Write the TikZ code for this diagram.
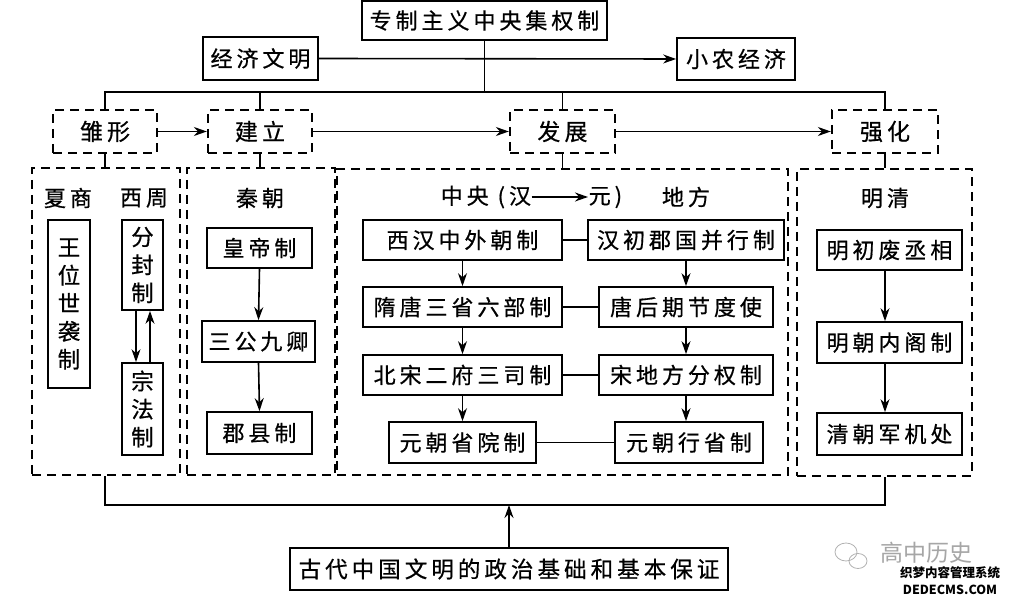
\documentclass[tikz,border=0pt]{standalone}
\usepackage{fontspec}
\newfontfamily\cjk[LetterSpace=18,FakeBold=0.6]{Noto Sans CJK SC}
\newfontfamily\cjkv[FakeBold=0.6]{Noto Sans CJK SC}
\newfontfamily\cjkplain{Noto Sans CJK SC}
\usetikzlibrary{arrows.meta}
\begin{document}
\begin{tikzpicture}[x=1pt,y=-1pt,
  line width=1.5pt,
  box/.style={draw, line width=1.7pt, inner sep=0pt, font=\cjk\fontsize{22}{26}\selectfont},
  dbox/.style={draw, line width=2.3pt, dash pattern=on 9pt off 6pt, inner sep=0pt, font=\cjk\fontsize{23}{26}\selectfont},
  grp/.style={draw, line width=2.3pt, dash pattern=on 9pt off 6pt, inner sep=0pt},
  vbox/.style={draw, line width=1.7pt, inner sep=0pt, align=center, font=\cjkv\fontsize{22.5}{28}\selectfont},
  hdr/.style={inner sep=0pt, font=\cjk\fontsize{22}{26}\selectfont},
  arr/.style={-{Stealth[length=13pt,width=9pt]}, line width=1.6pt}
]
\useasboundingbox[fill=white] (0,0) rectangle (1010,601);

% top row
\node[box, minimum width=245pt, minimum height=39pt] (top) at (484.5,20.5) {专制主义中央集权制};
\node[box, minimum width=115pt, minimum height=43pt] (jj) at (260.5,58.5) {经济文明};
\node[box, minimum width=118pt, minimum height=42pt] (xn) at (736,59) {小农经济};
\draw[arr] (jj.east) -- (xn.west);

% dashed stage boxes
\node[dbox, minimum width=104pt, minimum height=43pt] (chu) at (105,131.5) {雏形};
\node[dbox, minimum width=104pt, minimum height=43pt] (jl) at (260,131.5) {建立};
\node[dbox, minimum width=105pt, minimum height=43pt] (fz) at (562.5,131.5) {发展};
\node[dbox, minimum width=106pt, minimum height=43pt] (qh) at (885,131.5) {强化};
\draw[arr] (chu.east) -- (jl.west);
\draw[arr] (jl.east) -- (fz.west);
\draw[arr] (fz.east) -- (qh.west);

\coordinate (bus) at (484.5,92);
\draw (chu.north) |- (bus) -| (qh.north);
\draw (top.south) -- (bus);
\draw (jl.north) -- (jl.north |- bus);
\draw (fz.north) -- (fz.north |- bus);

% group boxes
\node[grp, minimum width=148pt, minimum height=307pt] (g1) at (106,321.5) {};
\node[grp, minimum width=148pt, minimum height=307pt] (g2) at (261,321.5) {};
\node[grp, minimum width=451pt, minimum height=306pt] (g3) at (562.5,322) {};
\node[grp, minimum width=175pt, minimum height=307pt] (g4) at (884.5,322.5) {};
\draw (chu.south) -- (chu.south |- g1.north);
\draw (jl.south) -- (jl.south |- g2.north);
\draw (fz.south) -- (fz.south |- g3.north);
\draw (qh.south) -- (qh.south |- g4.north);

% group 1
\node[hdr] (xs) at (68,198) {夏商};
\node[hdr] (xz) at (144,198) {西周};
\node[vbox, minimum width=42pt, minimum height=168pt] (wang) at (69,304) {王\\位\\世\\袭\\制};
\node[vbox, minimum width=41pt, minimum height=90pt] (ff) at (142.5,265) {分\\封\\制};
\node[vbox, minimum width=41pt, minimum height=92pt] (zf) at (142.5,409) {宗\\法\\制};
\draw[arr] ([xshift=-6.5pt]ff.south) -- ([xshift=-6.5pt]zf.north);
\draw[arr] ([xshift=7.5pt]zf.north) -- ([xshift=7.5pt]ff.south);

% group 2
\node[hdr] (qc) at (260,198) {秦朝};
\node[box, minimum width=105pt, minimum height=40pt] (hd) at (259.5,248) {皇帝制};
\node[box, minimum width=113pt, minimum height=41pt] (sg) at (258.5,341.5) {三公九卿};
\node[box, minimum width=105pt, minimum height=42pt] (jx) at (259.5,433) {郡县制};
\draw[arr] (hd.south) -- (sg.north);
\draw[arr] (sg.south) -- (jx.north);

% group 3
\node[hdr, anchor=west] (zy) at (440,197) {中央 (汉};
\node[hdr, anchor=west] (yuan) at (588,197) {元)};
\draw[arr] (zy.east) -- (yuan.west);
\node[hdr] (df) at (686,197) {地方};
\node[box, minimum width=199pt, minimum height=40pt] (l1) at (462.5,240) {西汉中外朝制};
\node[box, minimum width=196pt, minimum height=40pt] (r1) at (686,240) {汉初郡国并行制};
\node[box, minimum width=199pt, minimum height=40pt] (l2) at (462.5,307) {隋唐三省六部制};
\node[box, minimum width=174pt, minimum height=40pt] (r2) at (686,307) {唐后期节度使};
\node[box, minimum width=199pt, minimum height=40pt] (l3) at (462.5,375) {北宋二府三司制};
\node[box, minimum width=174pt, minimum height=40pt] (r3) at (686,375) {宋地方分权制};
\node[box, minimum width=147pt, minimum height=41pt] (l4) at (462.5,442.5) {元朝省院制};
\node[box, minimum width=148pt, minimum height=41pt] (r4) at (689,442.5) {元朝行省制};
\draw (l1.east) -- (r1.west);
\draw (l2.east) -- (r2.west);
\draw (l3.east) -- (r3.west);
\draw (l4.east) -- (r4.west);
\draw[arr] (l1.south) -- (l2.north);
\draw[arr] (l2.south) -- (l3.north);
\draw[arr] (l3.south) -- (l4.north);
\draw[arr] (r1.south) -- (r1.south |- r2.north);
\draw[arr] (r2.south) -- (r3.north);
\draw[arr] (r3.south) -- (r3.south |- r4.north);

% group 4
\node[hdr] (mq) at (885,198) {明清};
\node[box, minimum width=145pt, minimum height=40pt] (m1) at (889.5,250) {明初废丞相};
\node[box, minimum width=145pt, minimum height=41pt] (m2) at (889.5,342.5) {明朝内阁制};
\node[box, minimum width=145pt, minimum height=42pt] (m3) at (889.5,434) {清朝军机处};
\draw[arr] (m1.south -| qh.south) -- (m2.north -| qh.south);
\draw[arr] (m2.south -| qh.south) -- (m3.north -| qh.south);

% bottom
\node[box, minimum width=438pt, minimum height=42pt, font=\cjk\fontsize{22.5}{28}\selectfont] (bot) at (509,569) {古代中国文明的政治基础和基本保证};
\coordinate (bb) at (509,505);
\draw (g1.south -| chu.south) |- (bb) -| (g4.south -| qh.south);
\draw[arr] (bot.north) -- (bb);

% watermark
\draw[gray!60, line width=0.8pt] (846,552) ellipse (11pt and 9pt);
\draw[gray!60, line width=0.8pt] (858,561) ellipse (9pt and 7.5pt);
\node[inner sep=0pt, text=gray!70, font=\cjkplain\fontsize{23}{24}\selectfont] (wm) at (926,553) {高中历史};
\node[inner sep=0pt, font=\cjkplain\fontsize{12.5}{13}\selectfont\bfseries] (wm2) at (950,573) {织梦内容管理系统};
\node[inner sep=0pt, font=\cjkplain\fontsize{12.5}{13}\selectfont\bfseries] (wm3) at (950,590) {DEDECMS.COM};
\end{tikzpicture}
\end{document}
